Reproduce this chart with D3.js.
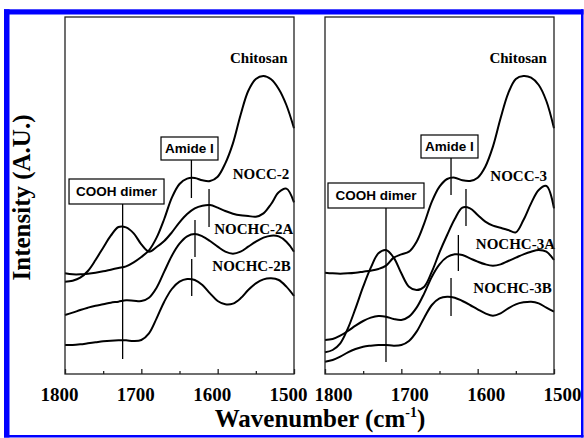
<!DOCTYPE html>
<html lang="en">
  <head>
    <meta charset="utf-8"/>
    <title>FTIR spectra - chitosan derivatives</title>
    <script src="https://d3js.org/d3.v7.min.js"></script>
    <style>
      body { margin: 0; background: #fff; }
      svg { display: block; }
      .serif { font-family: "Liberation Serif", "Times New Roman", serif; font-weight: bold; }
      .sans { font-family: "Liberation Sans", Arial, sans-serif; font-weight: bold; }
    </style>
  </head>
  <body>
    <div id="chart-holder"></div>
    <script type="text/javascript">

      // wavenumber grid (cm-1), read every 10 cm-1 off the figure
      var wavenumbers = [1800, 1790, 1780, 1770, 1760, 1750, 1740, 1730, 1720, 1710, 1700,
                         1690, 1680, 1670, 1660, 1650, 1640, 1630, 1620, 1610, 1600,
                         1590, 1580, 1570, 1560, 1550, 1540, 1530, 1520, 1510, 1500];

      // left panel (series 2) intensities, arbitrary units incl. stacking offset
      var chitosan2 = [30.2, 29.9, 29.9, 30.1, 30.4, 30.8, 31.3, 31.8, 32.3, 33.5, 35.1,
                       37.1, 40.9, 46.5, 52.9, 57.0, 58.6, 58.8, 58.1, 57.9, 59.2,
                       63.2, 69.2, 77.7, 84.9, 88.5, 89.4, 88.4, 85.5, 80.7, 73.7];
      var nocc2 = [27.7, 28.0, 28.9, 30.9, 34.2, 37.9, 41.5, 44.1, 44.0, 42.2, 38.9,
                   36.7, 38.1, 39.9, 42.5, 45.5, 48.0, 49.7, 50.5, 50.7, 49.9,
                   48.9, 48.1, 47.6, 47.4, 47.2, 48.2, 51.0, 54.5, 55.6, 51.5];
      var nochc2a = [17.7, 18.4, 19.2, 19.9, 20.5, 20.9, 21.4, 21.7, 22.1, 22.0, 21.9,
                     22.9, 25.9, 30.7, 35.5, 39.1, 41.3, 42.0, 41.3, 39.9, 38.2,
                     36.7, 36.1, 36.7, 38.2, 39.7, 40.9, 41.5, 41.3, 39.7, 36.7];
      var nochc2b = [8.7, 8.7, 8.9, 9.2, 9.5, 9.8, 10.0, 10.1, 10.1, 9.9, 10.2,
                     12.2, 16.7, 21.7, 25.5, 27.7, 28.5, 28.2, 26.7, 24.2, 21.9,
                     20.9, 21.1, 22.7, 25.2, 27.2, 28.4, 28.7, 28.2, 26.2, 23.4];

      // right panel (series 3)
      var chitosan3 = [30.4, 30.2, 30.1, 30.2, 30.4, 30.7, 31.0, 31.5, 32.5, 34.9, 35.9,
                       36.7, 39.7, 45.2, 51.7, 56.2, 58.5, 58.9, 58.1, 57.9, 58.9,
                       62.2, 68.2, 76.7, 84.2, 88.5, 89.4, 88.9, 86.7, 81.9, 73.7];
      var nocc3 = [6.5, 7.2, 9.2, 13.7, 19.7, 26.2, 31.9, 36.2, 37.2, 34.9, 30.2,
                   26.2, 25.2, 26.2, 30.7, 36.5, 41.7, 46.5, 49.9, 49.7, 47.7,
                   45.7, 44.5, 43.9, 43.2, 42.5, 46.2, 51.2, 55.2, 56.4, 49.7];
      var nochc3a = [10.2, 10.5, 11.5, 12.9, 14.5, 15.9, 16.9, 17.4, 17.2, 16.5, 16.2,
                     17.2, 19.9, 24.2, 29.2, 32.9, 35.1, 35.9, 35.7, 34.7, 33.7,
                     32.9, 32.5, 32.9, 33.9, 34.9, 35.9, 36.7, 37.2, 36.7, 34.2];
      var nochc3b = [3.7, 4.2, 5.2, 6.5, 7.5, 8.2, 8.5, 8.7, 8.7, 8.5, 8.7,
                     9.9, 12.7, 16.9, 20.7, 22.7, 23.2, 22.9, 21.9, 20.7, 19.4,
                     18.2, 17.5, 18.2, 19.7, 20.9, 21.5, 21.7, 21.2, 19.9, 18.7];

      // band positions marked with a vertical line (cm-1)
      var bands2 = [1724.5, 1634.4, 1611.3, 1629.7, 1634.0];
      var bands3 = [1720.1, 1634.9, 1615.3, 1625.3, 1634.9];

      // axis ticks
      var majorTicks = [1800, 1700, 1600, 1500];
      var minorTicks = [1750, 1650, 1550];

      // size of the picture
      var w = 584;
      var h = 438;
      var plotTop = 17;
      var plotBottom = 374;

      // layout of the two panels: pixel extents, where labels / boxes / marker lines sit
      var panels = [
        {
          x0: 65, x1: 294, labelShift: -6,
          series: [
            { values: chitosan2, name: "Chitosan",  at: [1508.5, 93.3] },
            { values: nocc2,     name: "NOCC-2",    at: [1506.1, 58.4] },
            { values: nochc2a,   name: "NOCHC-2A",  at: [1500.9, 42.0] },
            { values: nochc2b,   name: "NOCHC-2B",  at: [1504.3, 30.8] }
          ],
          // [band index, top, bottom] in intensity units
          marks: [[0, 51.0, 4.5], [1, 64.2, 52.8], [2, 55.5, 44.1], [3, 46.2, 35.1], [4, 34.5, 23.4]],
          boxes: [
            { text: "COOH dimer", cx: 1732.5, top: 58.5, width: 95, height: 25 },
            { text: "Amide I",    cx: 1636.9, top: 71.1, width: 57, height: 23 }
          ],
          bands: bands2
        },
        {
          x0: 325, x1: 554, labelShift: 8,
          series: [
            { values: chitosan3, name: "Chitosan",  at: [1509.2, 93.2] },
            { values: nocc3,     name: "NOCC-3",    at: [1509.2, 57.9] },
            { values: nochc3a,   name: "NOCHC-3A",  at: [1498.7, 37.5] },
            { values: nochc3b,   name: "NOCHC-3B",  at: [1503.0, 24.3] }
          ],
          marks: [[0, 49.8, 3.6], [1, 64.8, 53.7], [2, 55.5, 44.4], [3, 41.7, 30.9], [4, 28.8, 17.4]],
          boxes: [
            { text: "COOH dimer", cx: 1733.2, top: 57.3, width: 96, height: 25 },
            { text: "Amide I",    cx: 1636.9, top: 71.7, width: 57, height: 23 }
          ],
          bands: bands3
        }
      ];

      // shared intensity scale
      var y = d3.scaleLinear()
        .domain([0, 107.1])
        .range([plotBottom, plotTop])
      ;

      // create an SVG
      var svg = d3.select("#chart-holder")
        .append("svg")
        .attr("width", w)
        .attr("height", h)
      ;

      svg.append("rect")
        .attr("width", w)
        .attr("height", h)
        .attr("fill", "#fff")
      ;

      panels.forEach(function(p) {
        var x = d3.scaleLinear()
          .domain([1800, 1500])
          .range([p.x0, p.x1])
        ;

        var g = svg.append("g");

        // spectra
        var line = d3.line()
          .x(function(d, i) { return x(wavenumbers[i]); })
          .y(function(d) { return y(d); })
          .curve(d3.curveCatmullRom.alpha(0.5))
        ;
        g.selectAll("path.spectrum")
          .data(p.series)
          .enter()
          .append("path")
          .attr("class", "spectrum")
          .attr("d", function(d) { return line(d.values); })
          .attr("fill", "none")
          .attr("stroke", "#000")
          .attr("stroke-width", 2)
          .attr("stroke-linejoin", "round")
        ;

        // band marker lines
        g.selectAll("line.mark")
          .data(p.marks)
          .enter()
          .append("line")
          .attr("class", "mark")
          .attr("x1", function(d) { return x(p.bands[d[0]]); })
          .attr("x2", function(d) { return x(p.bands[d[0]]); })
          .attr("y1", function(d) { return y(d[1]); })
          .attr("y2", function(d) { return y(d[2]); })
          .attr("stroke", "#000")
          .attr("stroke-width", 1.3)
        ;

        // annotation boxes
        var box = g.selectAll("g.box")
          .data(p.boxes)
          .enter()
          .append("g")
          .attr("class", "box")
        ;
        box.append("rect")
          .attr("x", function(d) { return x(d.cx) - d.width / 2; })
          .attr("y", function(d) { return y(d.top); })
          .attr("width", function(d) { return d.width; })
          .attr("height", function(d) { return d.height; })
          .attr("fill", "#fff")
          .attr("stroke", "#000")
          .attr("stroke-width", 1.2)
        ;
        box.append("text")
          .attr("class", "sans")
          .attr("x", function(d) { return x(d.cx); })
          .attr("y", function(d) { return y(d.top) + d.height / 2; })
          .attr("dy", "0.36em")
          .attr("text-anchor", "middle")
          .style("font-size", "13.5px")
          .text(function(d) { return d.text; })
        ;

        // series names
        g.selectAll("text.name")
          .data(p.series)
          .enter()
          .append("text")
          .attr("class", "name serif")
          .attr("x", function(d) { return x(d.at[0]); })
          .attr("y", function(d) { return y(d.at[1]); })
          .attr("text-anchor", "end")
          .style("font-size", "15px")
          .text(function(d) { return d.name; })
        ;

        // panel frame
        g.append("rect")
          .attr("x", p.x0)
          .attr("y", plotTop)
          .attr("width", p.x1 - p.x0)
          .attr("height", plotBottom - plotTop)
          .attr("fill", "none")
          .attr("stroke", "#222")
          .attr("stroke-width", 1.3)
        ;

        // bottom axis, ticks pointing inwards
        var major = g.append("g")
          .attr("transform", "translate(0," + plotBottom + ")")
          .call(d3.axisBottom(x).tickValues(majorTicks).tickFormat(d3.format("d"))
            .tickSize(-5).tickSizeOuter(0).tickPadding(14))
        ;
        major.select(".domain").remove();
        major.selectAll("line").attr("stroke", "#222").attr("stroke-width", 1.3);
        major.selectAll("text")
          .attr("class", "serif")
          .attr("dx", p.labelShift)
          .attr("fill", "#000")
          .style("font-size", "19px")
        ;

        var minor = g.append("g")
          .attr("transform", "translate(0," + plotBottom + ")")
          .call(d3.axisBottom(x).tickValues(minorTicks).tickSize(-3).tickSizeOuter(0).tickFormat(""))
        ;
        minor.select(".domain").remove();
        minor.selectAll("line").attr("stroke", "#222").attr("stroke-width", 1.3);
      });

      // blue frame round the whole figure (thick left/top, thin right/bottom)
      var border = [[4, 9.3, 5.5, 428.2], [4, 9.3, 579.5, 5.2], [581, 9.3, 2.5, 428.2], [4, 435, 579.5, 2.5]];
      svg.selectAll("rect.border")
        .data(border)
        .enter()
        .append("rect")
        .attr("class", "border")
        .attr("x", function(d) { return d[0]; })
        .attr("y", function(d) { return d[1]; })
        .attr("width", function(d) { return d[2]; })
        .attr("height", function(d) { return d[3]; })
        .attr("fill", "#0000ff")
      ;

      // axis titles
      var xTitle = svg.append("text")
        .attr("class", "serif")
        .attr("x", 320)
        .attr("y", 427)
        .attr("text-anchor", "middle")
        .style("font-size", "25px")
      ;
      xTitle.append("tspan").text("Wavenumber (cm");
      xTitle.append("tspan").attr("dy", -10).style("font-size", "14px").text("-1");
      xTitle.append("tspan").attr("dy", 10).text(")");

      svg.append("text")
        .attr("class", "serif")
        .attr("transform", "translate(30," + ((plotTop + plotBottom) / 2 + 2) + ")rotate(-90)")
        .attr("text-anchor", "middle")
        .style("font-size", "25px")
        .text("Intensity (A.U.)")
      ;
    </script>
  </body>
</html>
